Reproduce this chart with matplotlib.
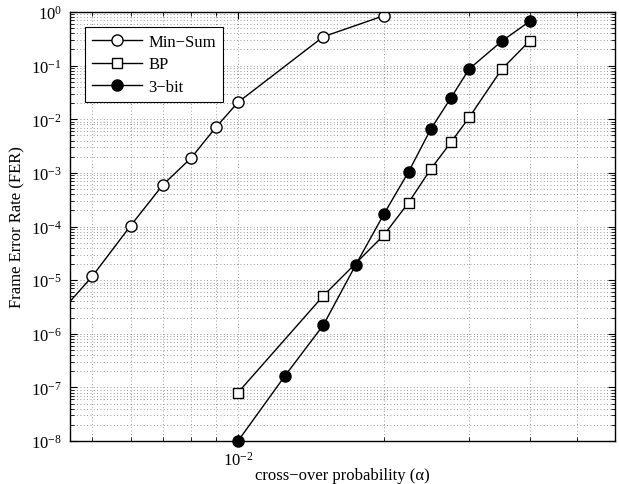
import matplotlib
matplotlib.use("Agg")
import matplotlib.pyplot as plt
from matplotlib.ticker import LogLocator, NullFormatter, FixedLocator, FixedFormatter

plt.rcParams['font.family'] = ['Liberation Serif', 'DejaVu Serif']
plt.rcParams['mathtext.fontset'] = 'custom'
plt.rcParams['mathtext.rm'] = 'Liberation Serif'
plt.rcParams['mathtext.it'] = 'Liberation Serif:italic'

# Data
minsum_x = [0.004, 0.005, 0.006, 0.007, 0.008, 0.009, 0.01, 0.015, 0.02]
minsum_y = [1.2e-6, 1.17e-5, 1.03e-4, 6.0e-4, 1.89e-3, 7.06e-3, 2.07e-2, 0.346, 0.853]

bp_x = [0.01, 0.015, 0.02, 0.0225, 0.025, 0.0275, 0.03, 0.035, 0.04]
bp_y = [8.0e-8, 5.1e-6, 6.9e-5, 2.8e-4, 1.18e-3, 3.7e-3, 1.08e-2, 0.085, 0.29]

bit3_x = [0.01, 0.0125, 0.015, 0.0175, 0.02, 0.0225, 0.025, 0.0275, 0.03, 0.035, 0.04]
bit3_y = [1.0e-8, 1.64e-7, 1.45e-6, 1.93e-5, 1.7e-4, 1.05e-3, 6.56e-3, 2.49e-2, 8.65e-2, 0.284, 0.67]

labels = ["Min\u2212Sum", "BP", "3\u2212bit"]
xlabel = "cross\u2212over probability (\u03b1)"
ylabel = "Frame Error Rate (FER)"

fig = plt.figure(figsize=(6.19, 4.85), dpi=100)
ax = fig.add_axes([70/619, 1-442/485, 545/619, 429/485])

ax.plot(minsum_x, minsum_y, '-o', color='black', lw=1.0, ms=8,
        mfc='white', mec='black', mew=1.0, label=labels[0])
ax.plot(bp_x, bp_y, '-s', color='black', lw=1.0, ms=6.5,
        mfc='white', mec='black', mew=1.0, label=labels[1], clip_on=False)
ax.plot(bit3_x, bit3_y, '-o', color='black', lw=1.0, ms=8,
        mfc='black', mec='black', mew=1.0, label=labels[2], clip_on=False)

ax.set_xscale('log')
ax.set_yscale('log')
ax.set_xlim(0.0045, 0.06)
ax.set_ylim(1e-8, 1)

ax.xaxis.set_major_locator(FixedLocator([0.01]))
ax.xaxis.set_major_formatter(FixedFormatter([r'$10^{-2}$']))
ax.xaxis.set_minor_locator(LogLocator(base=10, subs=range(2, 10), numticks=20))
ax.xaxis.set_minor_formatter(NullFormatter())

ax.yaxis.set_major_locator(LogLocator(base=10, numticks=20))
ax.yaxis.set_minor_locator(LogLocator(base=10, subs=range(2, 10), numticks=100))
ax.yaxis.set_minor_formatter(NullFormatter())

ax.tick_params(which='both', direction='in', top=True, right=True, labelsize=12, colors='black')
ax.tick_params(which='major', length=5, width=0.8)
ax.tick_params(which='minor', length=3, width=0.6)
ax.tick_params(axis='x', pad=7)
ax.tick_params(axis='y', pad=6)
ax.xaxis.get_offset_text().set_visible(False)
ax.yaxis.get_offset_text().set_visible(False)

ax.grid(True, which='both', linestyle=(0, (1, 3)), color='#777777', linewidth=0.6)
ax.set_axisbelow(True)

for s in ax.spines.values():
    s.set_linewidth(1.0)
    s.set_color('black')

ax.set_xlabel(xlabel, fontsize=12, va='center')
ax.xaxis.set_label_coords(0.5, (442 - 476) / 429)
ax.set_ylabel(ylabel, fontsize=12, labelpad=4)

leg = ax.legend(loc='upper left', bbox_to_anchor=(0.028, 0.965), fontsize=12,
                frameon=True, fancybox=False, edgecolor='black', framealpha=1,
                handlelength=3.0, borderpad=0.4, labelspacing=0.4, handletextpad=0.4,
                borderaxespad=0)
leg.get_frame().set_linewidth(0.8)

fig.savefig('out.png', dpi=100)
